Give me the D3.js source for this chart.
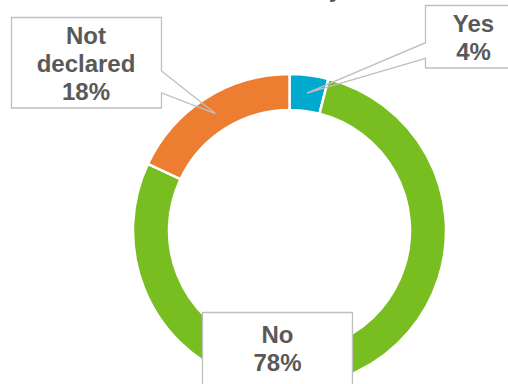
<!DOCTYPE html>
<html>
<head>
<meta charset="utf-8">
<script src="https://cdn.jsdelivr.net/npm/d3@7"></script>
<style>
  html, body { margin: 0; padding: 0; background: #fff; }
  svg { display: block; }
</style>
</head>
<body>
<svg id="chart" width="508" height="384"></svg>
<script>
// Responses, in drawing order clockwise from 12 o'clock
const categories = ["Yes", "No", "Not declared"];
const values = [4, 78, 18];
const colors = ["#00A9CE", "#78BE20", "#ED7D31"];
const titleText = "Disability";

const W = 508, H = 384;
const cx = 289.5, cy = 230.5;
const rOuter = 156.5, rInner = 120.5;

const svg = d3.select("#chart");

// Title sits mostly above the visible area
svg.append("text")
  .attr("x", 342).attr("y", -3)
  .attr("text-anchor", "end")
  .attr("font-family", "Liberation Sans, Arial, sans-serif")
  .attr("font-weight", "bold")
  .attr("font-size", 24)
  .attr("fill", "#595959")
  .text(titleText);

const data = categories.map((c, i) => ({ cat: c, value: values[i], color: colors[i] }));
const total = d3.sum(values);

const pie = d3.pie().value(d => d.value).sort(null).startAngle(0).endAngle(2 * Math.PI);
const arc = d3.arc().innerRadius(rInner).outerRadius(rOuter);
const arcs = pie(data);

const g = svg.append("g").attr("transform", `translate(${cx},${cy})`);
g.selectAll("path.slice")
  .data(arcs)
  .join("path")
  .attr("class", "slice")
  .attr("d", arc)
  .attr("fill", d => d.data.color)
  .attr("stroke", "#fff")
  .attr("stroke-width", 2.5);

// Data-label callout boxes: position, size, pointer side and pointer base
const boxes = {
  "Yes":          { x: 425.5, y: 5.5,   w: 95,  h: 62.5, side: "left",  p1: 42.7, p2: 58.3, cxText: 473.5, ty: 32 },
  "No":           { x: 202.5, y: 312.5, w: 150, h: 91,   side: null,                     cxText: 277.5, ty: 343 },
  "Not declared": { x: 11.5,  y: 17.5,  w: 150, h: 90.5, side: "right", p1: 71,   p2: 93,   cxText: 86,    ty: 43.5 }
};

const fmt = v => Math.round(v / total * 100) + "%";
const lineH = 28;

arcs.forEach(a => {
  const b = boxes[a.data.cat];
  const c = arc.centroid(a);
  const tip = [cx + c[0], cy + c[1]];
  const lab = svg.append("g");

  lab.append("rect")
    .attr("x", b.x).attr("y", b.y)
    .attr("width", b.w).attr("height", b.h)
    .attr("fill", "#fff");

  const x0 = b.x, y0 = b.y, x1 = b.x + b.w, y1 = b.y + b.h;
  let d;
  if (b.side === "right") {
    d = `M${x1},${b.p1}L${tip[0]},${tip[1]}L${x1},${b.p2}V${y1}H${x0}V${y0}H${x1}Z`;
  } else if (b.side === "left") {
    d = `M${x0},${b.p2}L${tip[0]},${tip[1]}L${x0},${b.p1}V${y0}H${x1}V${y1}H${x0}Z`;
  } else {
    d = `M${x0},${y0}H${x1}V${y1}H${x0}Z`;
  }
  lab.append("path")
    .attr("d", d)
    .attr("fill", "none")
    .attr("stroke", "#BFBFBF")
    .attr("stroke-width", 1.3)
    .attr("stroke-linejoin", "miter");

  const lines = a.data.cat === "Not declared"
    ? ["Not", "declared", fmt(a.data.value)]
    : [a.data.cat, fmt(a.data.value)];

  const t = lab.append("text")
    .attr("text-anchor", "middle")
    .attr("font-family", "Liberation Sans, Arial, sans-serif")
    .attr("font-weight", "bold")
    .attr("font-size", 24)
    .attr("fill", "#595959");
  lines.forEach((s, i) => {
    t.append("tspan").attr("x", b.cxText).attr("y", b.ty + i * lineH).text(s);
  });
});
</script>
</body>
</html>
